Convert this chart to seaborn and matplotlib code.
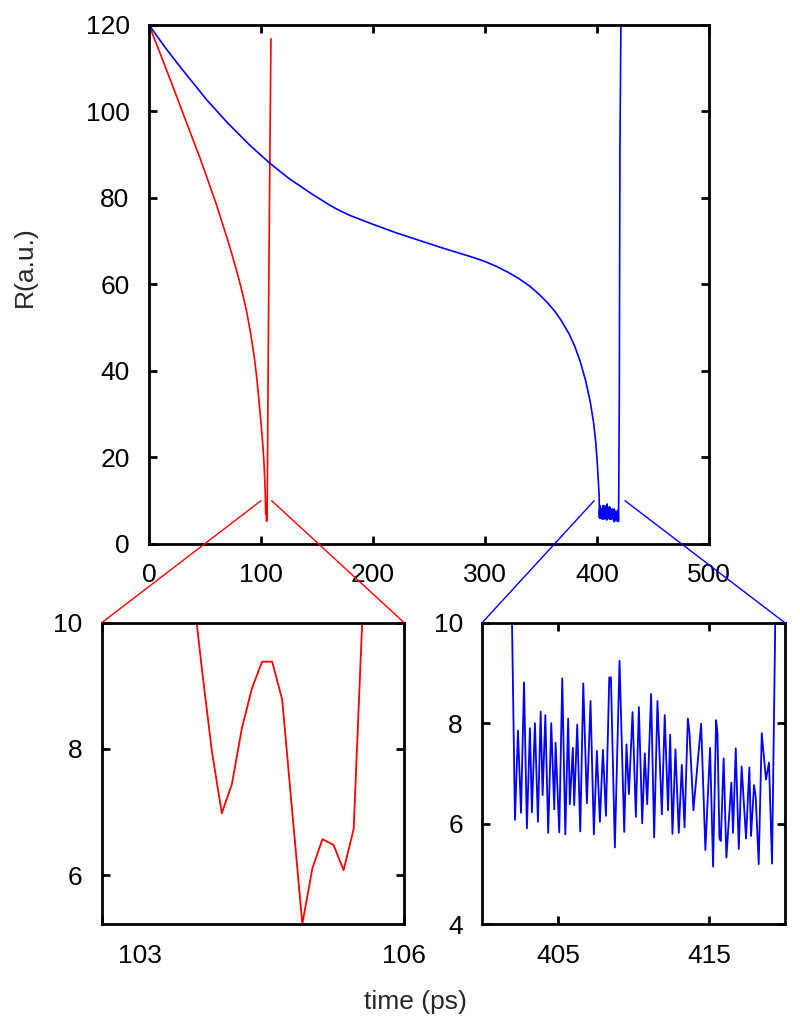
import matplotlib
matplotlib.use("Agg")
import matplotlib.pyplot as plt
from matplotlib.patches import ConnectionPatch
from matplotlib.transforms import ScaledTranslation
import pandas as pd
import seaborn as sns

# red run: R(a.u.) against time (ps)
red_t = [0, 10, 21.4, 35, 45, 51.5, 60, 69.4, 74, 78, 82, 85.7, 88, 91, 94, 96, 97.6, 100,
         101.5, 102.7, 103.4, 103.89, 103.99, 104.09, 104.19, 104.29, 104.39, 104.49,
         104.59, 104.69, 104.79, 104.89, 104.99, 105.09, 105.19, 105.30, 105.40, 105.50,
         105.60, 106.0, 106.8, 107.8, 108.9]
red_r = [120, 113.4, 105.7, 96.4, 89.6, 84.9, 78.6, 71.0, 67.0, 63.4, 59.5, 55.5, 52.6,
         48.3, 43.2, 38.9, 34.8, 28.0, 23.3, 18.6, 14.5, 10.7, 9.3, 7.98, 6.98, 7.44, 8.33,
         8.96, 9.38, 9.38, 8.78, 7.0, 5.23, 6.11, 6.57, 6.48, 6.08, 6.73, 10.6, 25.5, 54.6,
         86.0, 116.8]

# blue run: smooth decay, noisy plateau 402-419 ps, then sharp rise
blue_t = [0, 15, 30, 51.5, 70, 90, 108, 125, 145, 161.6, 170, 180, 200, 220, 240, 260, 280,
          290, 300, 310, 320, 330, 340, 348, 355, 362, 368, 375, 380, 385, 390, 394, 397,
          399, 400.3, 401.2, 401.9,
          402.16, 402.36, 402.56, 402.76, 402.95, 403.15, 403.28, 403.48, 403.68, 403.86,
          403.99, 404.17, 404.36, 404.56, 404.76, 404.85, 405.09, 405.29, 405.49, 405.68,
          405.79, 405.99, 406.08, 406.28, 406.48, 406.68, 406.92, 407.16, 407.38, 407.58,
          407.78, 407.98, 408.18, 408.40, 408.51, 408.77, 409.08, 409.39, 409.54, 409.70,
          409.94, 410.16, 410.36, 410.58, 410.75, 410.91, 411.17, 411.37, 411.59, 411.88,
          412.07, 412.29, 412.43, 412.58, 412.78, 413.00, 413.20, 413.38, 413.60, 413.71,
          413.97, 414.48, 414.76, 415.07, 415.27, 415.47, 415.56, 415.69, 415.78, 415.97,
          416.15, 416.48, 416.59, 416.77, 416.97, 417.16, 417.45, 417.67, 417.78, 417.98,
          418.09, 418.29, 418.49, 418.77, 418.97, 419.17,
          419.37, 419.9, 420.5, 421.4, 421.8]
blue_r = [120, 114.6, 109.6, 102.7, 97.4, 92.2, 88.0, 84.5, 81.0, 78.3, 77.1, 75.9, 73.9,
          72.0, 70.3, 68.6, 67.0, 66.2, 65.3, 64.2, 62.9, 61.4, 59.6, 57.8, 56.0, 53.9,
          51.7, 48.6, 45.8, 42.2, 37.6, 32.8, 28.0, 23.2, 18.5, 14.5, 11.3,
          6.08, 7.85, 6.22, 8.81, 5.91, 7.90, 6.23, 8.00, 6.04, 8.23,
          6.57, 8.16, 5.82, 8.00, 6.29, 7.61, 5.83, 8.89, 5.79, 8.09,
          6.39, 7.51, 6.37, 7.97, 5.85, 8.79, 6.41, 8.44, 5.79, 7.45,
          6.04, 7.47, 6.16, 8.91, 8.91, 5.53, 9.24, 5.84, 7.58, 6.59,
          8.22, 6.14, 8.32, 6.01, 7.40, 6.39, 8.58, 5.73, 8.44, 6.19,
          8.16, 6.27, 7.77, 5.80, 7.48, 5.82, 7.17, 5.93, 8.09, 7.80,
          6.27, 7.99, 5.48, 7.51, 5.15, 8.06, 7.80, 5.71, 5.66, 7.30,
          5.33, 6.82, 5.82, 7.50, 5.50, 7.14, 5.71, 7.12, 5.76, 6.77,
          6.54, 5.20, 7.80, 6.88, 7.22, 5.21,
          9.66, 33.3, 92.6, 120, 135]

main_xticks = [0, 100, 200, 300, 400, 500]
main_yticks = [0, 20, 40, 60, 80, 100, 120]
red_zoom_x = (103, 106)
red_zoom_y = (5.22, 10)
red_zoom_xticks = [103, 106]
red_zoom_yticks = [6, 8, 10]
blue_zoom_x = (400, 420)
blue_zoom_y = (4, 10)
blue_zoom_xticks = [405, 415]
blue_zoom_yticks = [4, 6, 8, 10]

red = pd.DataFrame({"t": red_t, "R": red_r})
blue = pd.DataFrame({"t": blue_t, "R": blue_r})

FS = 19

sns.set_theme(style="ticks")
plt.rcParams['font.family'] = ['Liberation Sans', 'DejaVu Sans']
plt.rcParams['font.size'] = FS


def style_frame(ax):
    for sp in ax.spines.values():
        sp.set_linewidth(2)
        sp.set_color("black")
    ax.tick_params(direction="in", length=6, width=2, top=True, right=True,
                   labelsize=FS, colors="black")
    ax.tick_params(axis="x", pad=14)
    ax.tick_params(axis="y", pad=14)
    ax.set_xlabel("")
    ax.set_ylabel("")


fig = plt.figure(figsize=(8, 10.31), dpi=100)
ax = fig.add_axes([0.18625, 0.4724, 0.7, 0.5034])
ax_r = fig.add_axes([0.1275, 0.1033, 0.3775, 0.2929])
ax_b = fig.add_axes([0.6029, 0.1033, 0.3778, 0.2929])

for a, lw in [(ax, 1.2), (ax_r, 1.3), (ax_b, 1.3)]:
    sns.lineplot(data=red, x="t", y="R", color="#ff0000", lw=lw, estimator=None, ax=a)
    sns.lineplot(data=blue, x="t", y="R", color="#0000ff", lw=lw, estimator=None, ax=a)
    style_frame(a)

ax.set_xlim(0, 500)
ax.set_ylim(0, 120)
ax.set_xticks(main_xticks)
ax.set_yticks(main_yticks)
ax.set_ylabel("R(a.u.)", fontsize=FS)
ax.yaxis.set_label_coords(-0.200, 0.534)

ax_r.set_xlim(*red_zoom_x)
ax_r.set_ylim(*red_zoom_y)
ax_r.set_xticks(red_zoom_xticks)
ax_r.set_yticks(red_zoom_yticks)
# the "103" label sits inside the panel in the original
first = ax_r.get_xticklabels()[0]
first.set_transform(first.get_transform() + ScaledTranslation(0.38, 0, fig.dpi_scale_trans))

ax_b.set_xlim(*blue_zoom_x)
ax_b.set_ylim(*blue_zoom_y)
ax_b.set_xticks(blue_zoom_xticks)
ax_b.set_yticks(blue_zoom_yticks)

# zoom connector lines from the main panel down to the inset corners
for x0, ins, corner, col in [(100, ax_r, (0, 1), "#ff0000"), (109.5, ax_r, (1, 1), "#ff0000"),
                             (397.5, ax_b, (0, 1), "#0000ff"), (425, ax_b, (1, 1), "#0000ff")]:
    con = ConnectionPatch(xyA=(x0, 10), coordsA=ax.transData,
                          xyB=corner, coordsB=ins.transAxes,
                          color=col, lw=1.0, clip_on=False)
    fig.add_artist(con)

fig.text(0.519, 0.028, "time (ps)", ha="center", va="center", fontsize=FS)

fig.savefig("out.png", dpi=100)
